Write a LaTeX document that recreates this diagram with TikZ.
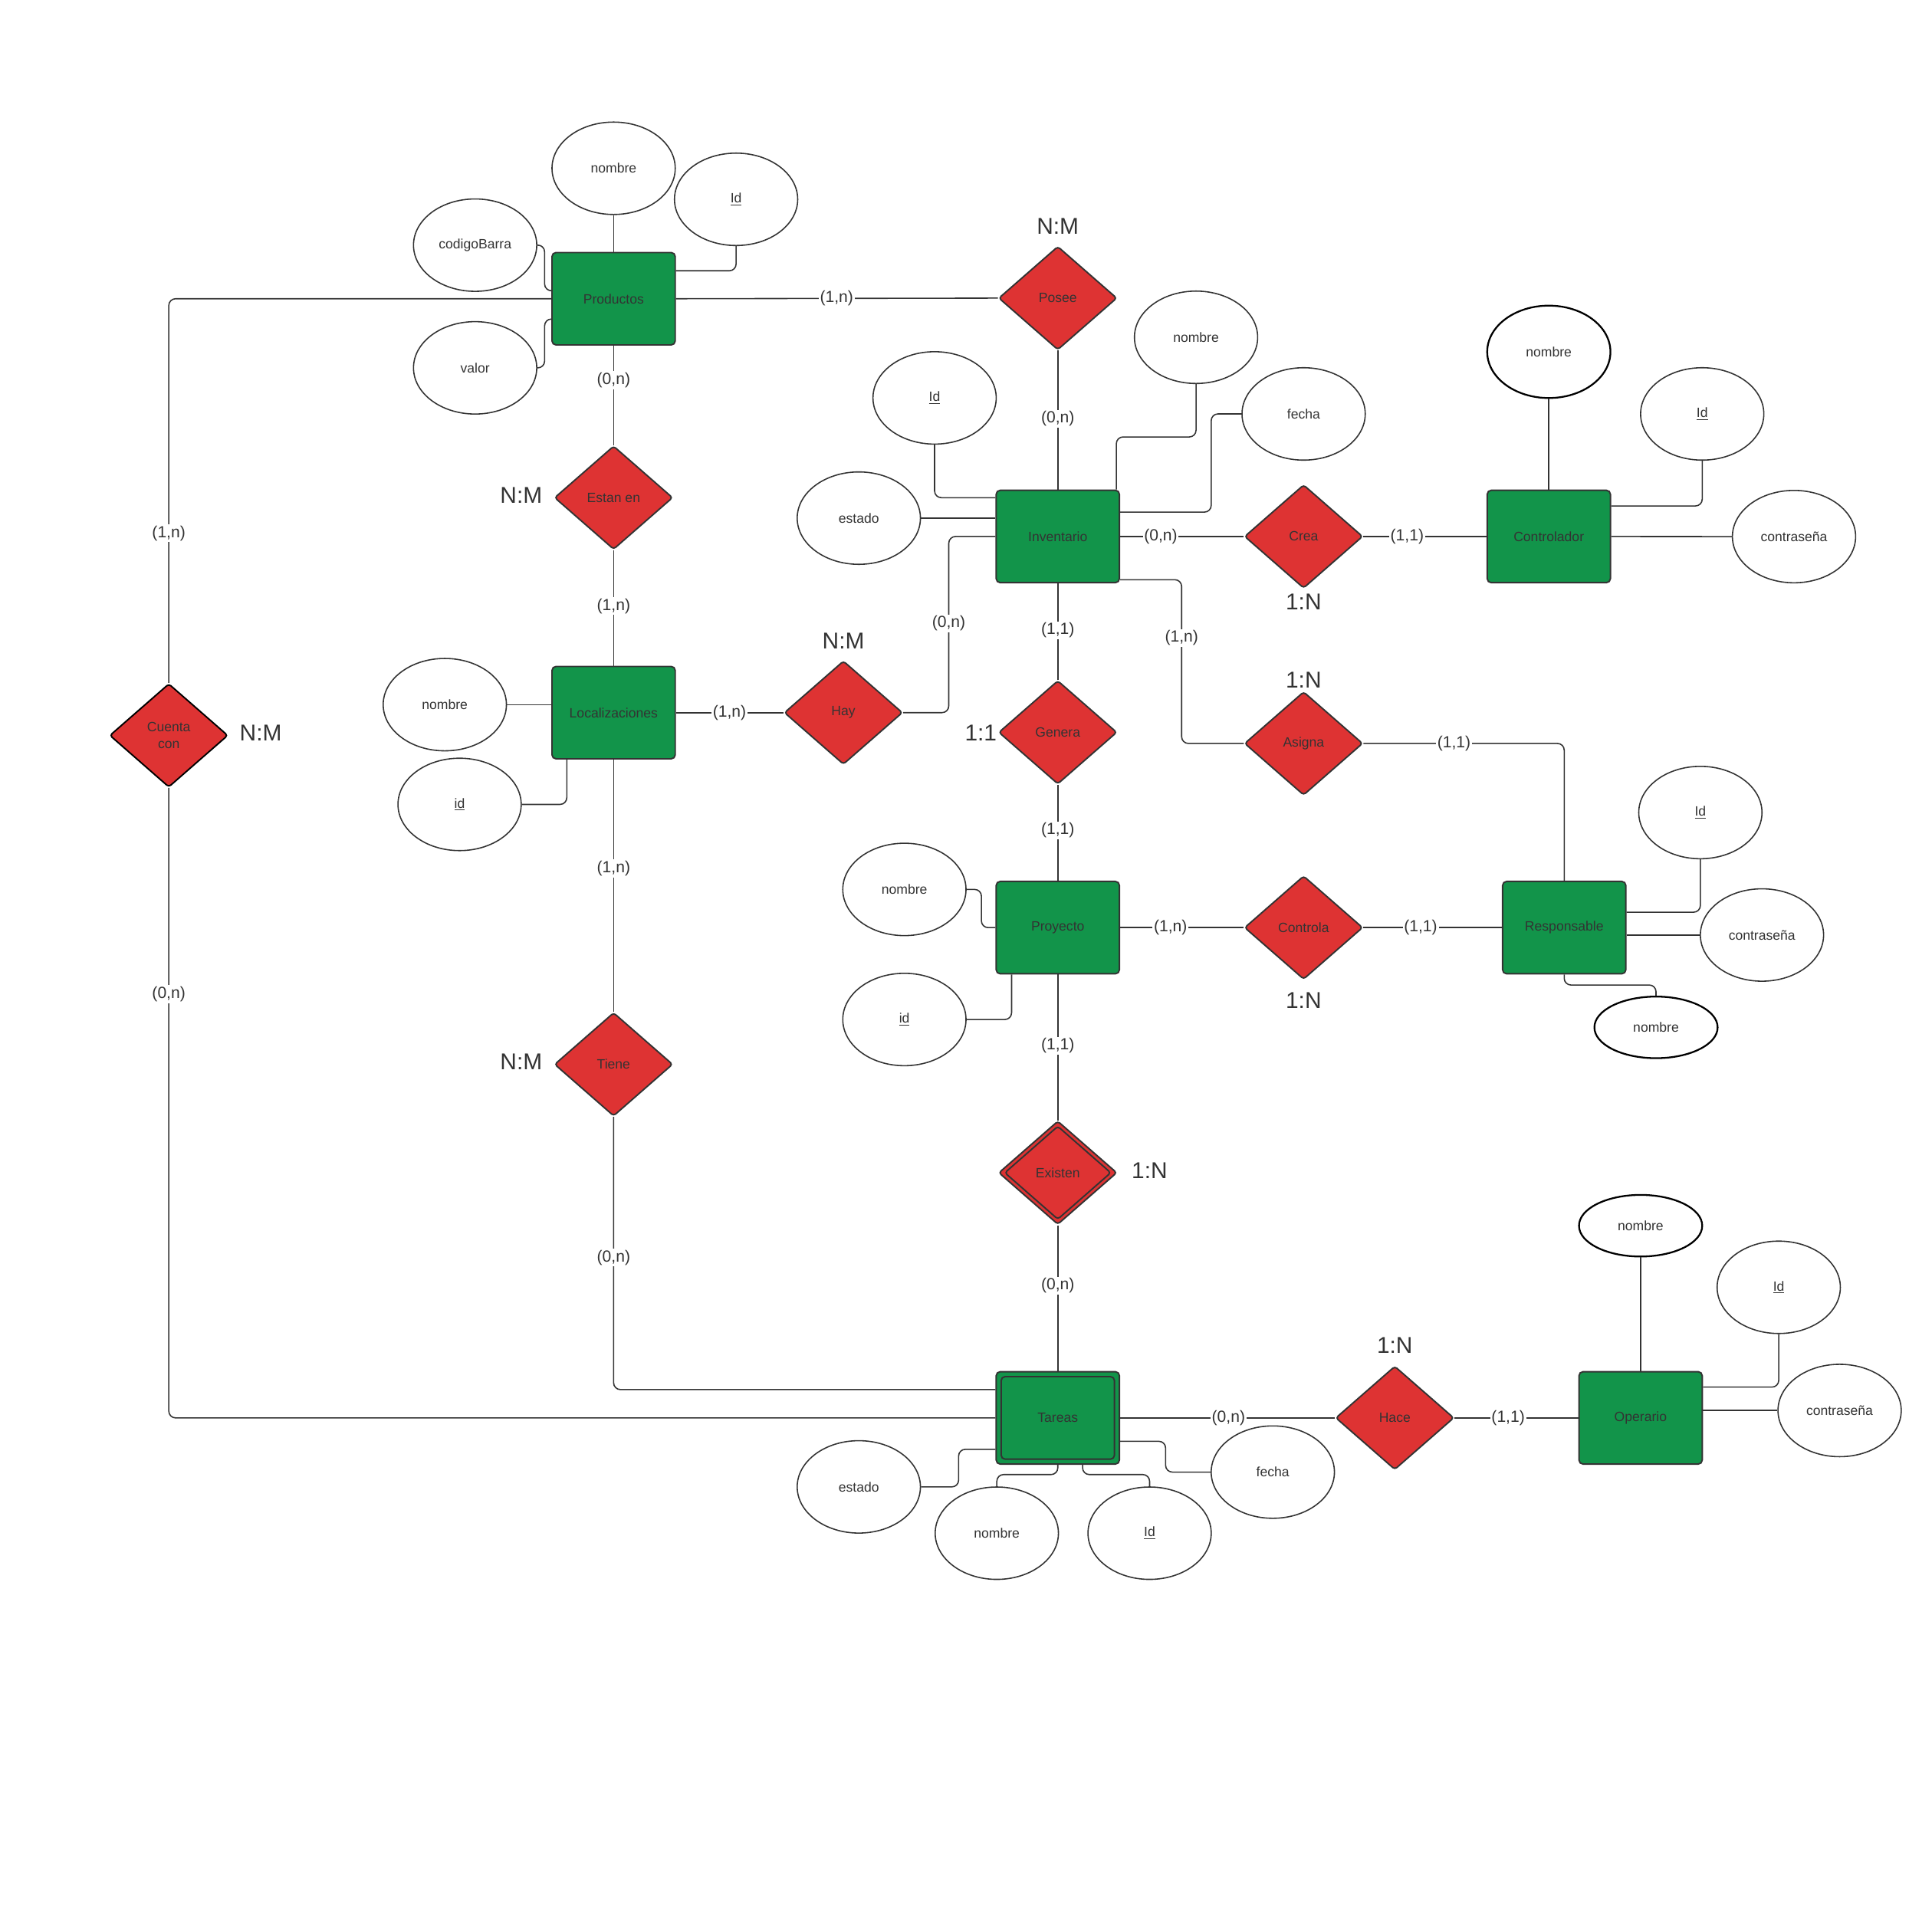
\documentclass[tikz,border=0pt]{standalone}
\usepackage{fontspec}
\setmainfont{Liberation Sans}
\usetikzlibrary{shapes.geometric}
\definecolor{egreen}{HTML}{12944A}
\definecolor{ered}{HTML}{DE3333}
\definecolor{ink}{HTML}{333333}
\begin{document}
\begin{tikzpicture}[x=0.03214cm,y=-0.03214cm,
  entity/.style={draw=ink, fill=egreen, line width=1.1pt, rounded corners=3pt, minimum width=3.214cm, minimum height=2.41cm, inner sep=0pt, font=\fontsize{10}{12}\selectfont, text=ink},
  attr/.style={ellipse, draw=ink, fill=white, line width=0.9pt, minimum width=3.214cm, minimum height=2.41cm, inner sep=0pt, font=\fontsize{10}{12}\selectfont, text=ink},
  attrb/.style={attr, draw=black, line width=1.3pt},
  rel/.style={diamond, draw=ink, fill=ered, line width=1.1pt, rounded corners=2pt, minimum width=3.085cm, minimum height=2.70cm, inner sep=0pt, font=\fontsize{10}{12}\selectfont, text=ink},
  conn/.style={draw=ink, line width=0.9pt, rounded corners=5pt},
  card/.style={fill=white, inner sep=1pt, font=\fontsize{12}{14}\selectfont, text=ink},
  ratio/.style={inner sep=0pt, font=\fontsize{17}{20}\selectfont, text=ink}]
\useasboundingbox (0,0) rectangle (1568,1556);
\fill[white] (0,0) rectangle (1568,1556);

% entities
\node[entity] (P) at (498,242.5) {Productos};
\node[entity] (I) at (858.5,435.5) {Inventario};
\node[entity] (C) at (1257,435.5) {Controlador};
\node[entity] (L) at (498,578.5) {Localizaciones};
\node[entity] (Pr) at (858.5,753) {Proyecto};
\node[entity] (R) at (1269.5,753) {Responsable};
\node[entity] (T) at (858.5,1151) {Tareas};
\node[entity, fill=none, minimum width=2.957cm, minimum height=2.153cm] (Ti) at (T) {};
\node[entity] (O) at (1331.5,1151) {Operario};

% relationships
\node[rel] (Posee) at (858.5,242) {Posee};
\node[rel] (Estan) at (498,404) {Estan en};
\node[rel] (Crea) at (1058,435.5) {Crea};
\node[rel] (Hay) at (684.5,578.5) {Hay};
\node[rel] (Genera) at (858.5,594.5) {Genera};
\node[rel] (Asigna) at (1058,603.5) {Asigna};
\node[rel] (Controla) at (1058,753) {Controla};
\node[rel] (Tiene) at (498,864) {Tiene};
\node[rel] (Existen) at (858.5,952) {Existen};
\node[rel, fill=none, minimum width=2.777cm, minimum height=2.436cm] (Exin) at (Existen) {};
\node[rel, draw=black, align=center, font=\fontsize{10}{12.5}\selectfont] (Cuenta) at (137,597) {Cuenta\\con};
\node[rel] (Hace) at (1132,1151) {Hace};

% attributes
\node[attr] (Pnom) at (498,136.6) {nombre};
\node[attr] (PId) at (597.4,161.8) {\underline{Id}};
\node[attr] (Pcod) at (385.6,199) {codigoBarra};
\node[attr] (Pval) at (385.6,298.6) {valor};
\node[attr] (IId) at (758.5,323) {\underline{Id}};
\node[attr] (Inom) at (970.7,273.8) {nombre};
\node[attr] (Ifec) at (1058,336) {fecha};
\node[attr] (Iest) at (697,420.6) {estado};
\node[attrb] (Cnom) at (1257,285.6) {nombre};
\node[attr] (CId) at (1381.5,336) {\underline{Id}};
\node[attr] (Ccon) at (1456,435.6) {contraseña};
\node[attr] (Lnom) at (361,572) {nombre};
\node[attr] (Lid) at (373,653) {\underline{id}};
\node[attr] (Prnom) at (734,722) {nombre};
\node[attr] (Prid) at (734,827.6) {\underline{id}};
\node[attr] (RId) at (1380,659.6) {\underline{Id}};
\node[attr] (Rcon) at (1430,759) {contraseña};
\node[attrb, minimum height=1.607cm] (Rnom) at (1344,834) {nombre};
\node[attr] (Test) at (697,1207) {estado};
\node[attr] (Tnom) at (809,1244.6) {nombre};
\node[attr] (TId) at (933,1244.6) {\underline{Id}};
\node[attr] (Tfec) at (1033,1195) {fecha};
\node[attrb, minimum height=1.607cm] (Onom) at (1331.5,995) {nombre};
\node[attr] (OId) at (1443.6,1045) {\underline{Id}};
\node[attr] (Ocon) at (1493,1145) {contraseña};

% attribute connectors
\draw[conn] (Pnom.south) -- (P.north);
\draw[conn] (PId.south) |- (P.east |- 0,219.8);
\draw[conn] (Pcod.east) -| (442,236) -- (P.west |- 0,236);
\draw[conn] (Pval.east) -| (442,259) -- (P.west |- 0,259);
\draw[conn] (IId.south) |- (I.west |- 0,404);
\draw[conn] (Iest.east) -- (I.west |- Iest.east);
\draw[conn] (Inom.south) |- (906,354.7) -- (906,0 |- I.north);
\draw[conn] (Ifec.west) -| (983,415.7) -- (I.east |- 0,415.7);
\draw[conn] (Cnom.south) -- (C.north);
\draw[conn] (CId.south) |- (C.east |- 0,410.7);
\draw[conn] (C.east) -- (Ccon.west);
\draw[conn] (Lnom.east) -- (L.west |- Lnom.east);
\draw[conn] (Lid.east) -| (460,0 |- L.south);
\draw[conn] (Prnom.east) -| (796.5,753) -- (Pr.west);
\draw[conn] (Prid.east) -| (821,0 |- Pr.south);
\draw[conn] (RId.south) |- (R.east |- 0,740.5);
\draw[conn] (R.east |- Rcon.west) -- (Rcon.west);
\draw[conn] (R.south) |- (Rnom.north |- 0,799.6) -- (Rnom.north);
\draw[conn] (Test.east) -| (778,1176.5) -- (T.west |- 0,1176.5);
\draw[conn] (Tnom.north) |- (858.5,1197) -- (T.south);
\draw[conn] (878.6,0 |- T.south) |- (TId.north |- 0,1197) -- (TId.north);
\draw[conn] (T.east |- 0,1170) -| (946,1195) -- (Tfec.west);
\draw[conn] (Onom.south) -- (O.north);
\draw[conn] (OId.south) |- (O.east |- 0,1126);
\draw[conn] (O.east |- Ocon.west) -- (Ocon.west);

% relationship connectors
\draw[conn] (P.east) -- (Posee.west);
\draw[conn] (P.south) -- (Estan.north);
\draw[conn] (Estan.south) -- (L.north);
\draw[conn] (Posee.south) -- (I.north);
\draw[conn] (I.east) -- (Crea.west);
\draw[conn] (Crea.east) -- (C.west);
\draw[conn] (I.south) -- (Genera.north);
\draw[conn] (Genera.south) -- (Pr.north);
\draw[conn] (I.east |- 0,470.6) -| (959,0 |- Asigna.west) -- (Asigna.west);
\draw[conn] (Asigna.east) -| (R.north);
\draw[conn] (L.east) -- (Hay.west);
\draw[conn] (Hay.east) -| (770,0 |- I.west) -- (I.west);
\draw[conn] (Pr.east) -- (Controla.west);
\draw[conn] (Controla.east) -- (R.west);
\draw[conn] (Pr.south) -- (Existen.north);
\draw[conn] (Existen.south) -- (T.north);
\draw[conn] (L.south) -- (Tiene.north);
\draw[conn] (Tiene.south) |- (T.west |- 0,1128);
\draw[conn] (P.west) -| (Cuenta.north);
\draw[conn] (Cuenta.south) |- (T.west);
\draw[conn] (T.east) -- (Hace.west);
\draw[conn] (Hace.east) -- (O.west);

% cardinalities
\node[card] (k1) at (679,242) {(1,n)};
\node[card] (k2) at (498,308.6) {(0,n)};
\node[card] (k3) at (498,492) {(1,n)};
\node[card] (k4) at (858.5,340) {(0,n)};
\node[card] (k5) at (942,435.5) {(0,n)};
\node[card] (k6) at (1142,435.5) {(1,1)};
\node[card] (k7) at (858.5,511.6) {(1,1)};
\node[card] (k8) at (858.5,674) {(1,1)};
\node[card] (k9) at (959,518) {(1,n)};
\node[card] (k10) at (1180,603.5) {(1,1)};
\node[card] (k11) at (592,578.5) {(1,n)};
\node[card] (k12) at (770,506) {(0,n)};
\node[card] (k13) at (950,753) {(1,n)};
\node[card] (k14) at (1153,753) {(1,1)};
\node[card] (k15) at (858.5,849) {(1,1)};
\node[card] (k16) at (858.5,1043.6) {(0,n)};
\node[card] (k17) at (498,705) {(1,n)};
\node[card] (k18) at (498,1021) {(0,n)};
\node[card] (k19) at (137,433) {(1,n)};
\node[card] (k20) at (137,807) {(0,n)};
\node[card] (k21) at (997,1151) {(0,n)};
\node[card] (k22) at (1224,1151) {(1,1)};

% ratios
\node[ratio] (q1) at (858.5,184) {N:M};
\node[ratio] (q2) at (423,402) {N:M};
\node[ratio] (q3) at (1058,488.5) {1:N};
\node[ratio] (q4) at (684.5,520) {N:M};
\node[ratio] (q5) at (796,595) {1:1};
\node[ratio] (q6) at (1058,552) {1:N};
\node[ratio] (q7) at (1058,812) {1:N};
\node[ratio] (q8) at (423,862) {N:M};
\node[ratio] (q9) at (933,950) {1:N};
\node[ratio] (q10) at (211.6,595) {N:M};
\node[ratio] (q11) at (1132,1092) {1:N};
\end{tikzpicture}
\end{document}
